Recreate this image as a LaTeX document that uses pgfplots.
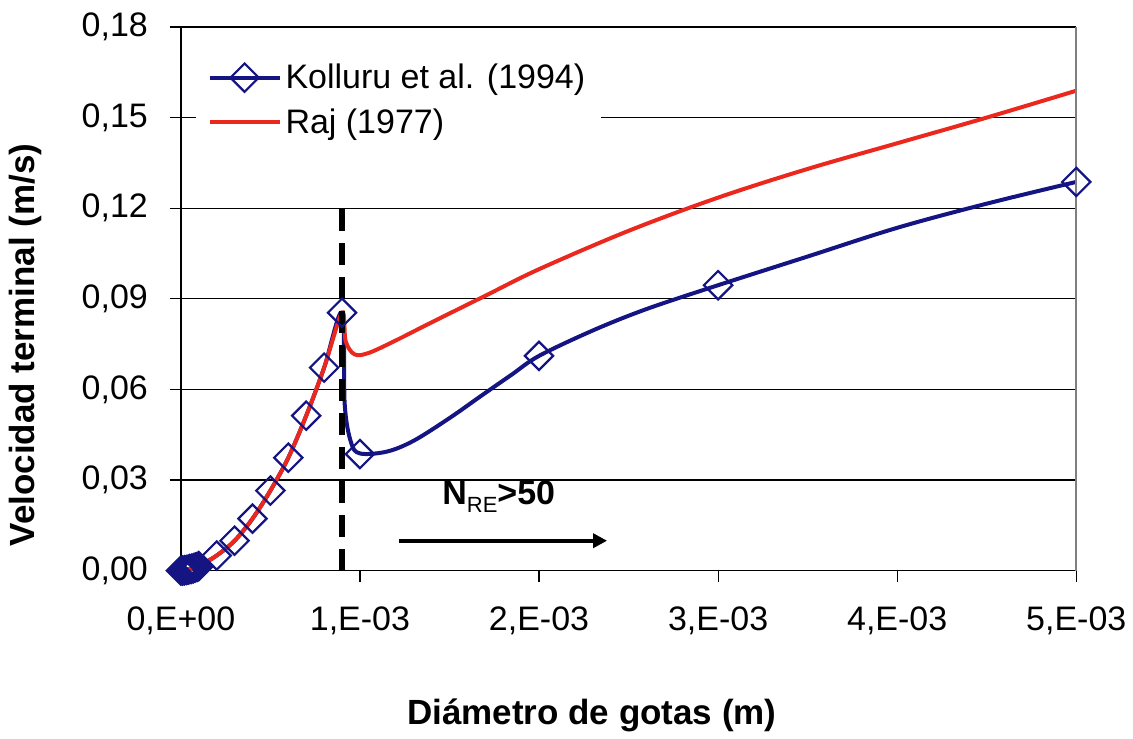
\documentclass[border=0pt]{standalone}
\usepackage{fontspec}
\setmainfont{Liberation Sans}
\usepackage{pgfplots}
\pgfplotsset{compat=1.18}
\usetikzlibrary{arrows.meta}
\definecolor{kblue}{RGB}{20,20,130}
\definecolor{rajred}{RGB}{235,40,30}

\begin{document}
\begin{tikzpicture}
\begin{axis}[
    scale only axis,
    width=448pt, height=272pt,
    xmin=0, xmax=0.005, ymin=0, ymax=0.18,
    axis x line*=bottom, axis y line*=left,
    clip=false,
    xtick={0,0.001,0.002,0.003,0.004,0.005},
    xticklabels={{0,E+00},{1,E-03},{2,E-03},{3,E-03},{4,E-03},{5,E-03}},
    ytick={0,0.03,0.06,0.09,0.12,0.15,0.18},
    yticklabels={{0,00},{0,03},{0,06},{0,09},{0,12},{0,15},{0,18}},
    scaled x ticks=false, scaled y ticks=false,
    tick align=outside, major tick length=5.5pt,
    tick style={black, line width=0.6pt},
    ymajorgrids, grid style={black, line width=0.6pt},
    axis line style={black, line width=0.8pt},
    ticklabel style={font=\fontsize{17}{17}\selectfont},
    xticklabel style={yshift=-9pt},
    yticklabel style={xshift=-7.5pt},
    label style={font=\fontsize{17.5}{17.5}\selectfont\bfseries},
    xlabel={Diámetro de gotas (m)},
    ylabel={Velocidad terminal (m/s)},
    xlabel style={at={(axis description cs:0.459,-0.267)}, anchor=center},
    ylabel style={at={(axis description cs:-0.174,0.415)}, anchor=center},
    legend style={at={(axis description cs:0.016,0.955)}, anchor=north west,
        draw=none, fill=white, font=\fontsize{17}{20}\selectfont,
        inner xsep=6pt, inner ysep=4pt, row sep=4.5pt},
    legend cell align=left,
    legend image code/.code={\draw[mark repeat=2,mark phase=2,#1]
        plot coordinates {(0pt,0pt) (17.5pt,0pt) (35pt,0pt)};},
]
% Kolluru et al. (1994), line
\addplot[kblue, line width=2pt, smooth, tension=0.55, forget plot] coordinates {
    (0,0) (0.00005,0.0005) (0.0001,0.0015) (0.0002,0.005) (0.0003,0.0099)
    (0.0004,0.0172) (0.0005,0.0265) (0.0006,0.0374) (0.0007,0.0513)
    (0.0008,0.0672) (0.0009,0.0854) (0.000915,0.055) (0.00095,0.0425)
    (0.001,0.0388) (0.00115,0.0394) (0.0013,0.0430) (0.0015,0.0505)
    (0.00168,0.0580) (0.00185,0.0650) (0.002,0.0711) (0.0023,0.0795)
    (0.0026,0.0866) (0.003,0.0945) (0.0035,0.1040) (0.004,0.1135)
    (0.0045,0.1215) (0.005,0.1287)};
% Raj (1977)
\addplot[rajred, line width=2pt, smooth, tension=0.55, forget plot] coordinates {
    (0,0) (0.00005,0.0005) (0.0001,0.0015) (0.0002,0.005) (0.0003,0.0099)
    (0.0004,0.0172) (0.0005,0.0265) (0.0006,0.0374) (0.0007,0.0513)
    (0.0008,0.0672) (0.0009,0.0854) (0.00092,0.0760) (0.00097,0.0716)
    (0.00105,0.0721) (0.0012,0.0762) (0.0014,0.0822) (0.0017,0.0910)
    (0.002,0.0998) (0.0025,0.1125) (0.003,0.1235) (0.0035,0.1330)
    (0.004,0.1415) (0.0045,0.1500) (0.005,0.1589)};
% Kolluru et al. (1994), markers
\addplot[only marks, mark=square, mark size=5pt,
    mark options={kblue, rotate=45, line width=1.1pt}, forget plot] coordinates {
    (0,0) (0.00001,0.00003) (0.00002,0.0001) (0.00003,0.0002) (0.00004,0.0003)
    (0.00005,0.0005) (0.00006,0.0006) (0.00007,0.0008) (0.00008,0.001)
    (0.00009,0.0012) (0.0001,0.0015)
    (0.0002,0.005) (0.0003,0.0099) (0.0004,0.0172) (0.0005,0.0265)
    (0.0006,0.0374) (0.0007,0.0513) (0.0008,0.0672) (0.0009,0.0854)
    (0.001,0.0386) (0.002,0.0711) (0.003,0.0945) (0.005,0.1287)};
% limit of the regimes
\addplot[black, line width=3pt, dash pattern=on 11pt off 6pt, forget plot]
    coordinates {(0.0009,0) (0.0009,0.121)};
\addplot[black, line width=2.2pt, -{Triangle[length=7pt,width=7pt]}, forget plot]
    coordinates {(0.00122,0.0099) (0.00238,0.0099)};
\node[font=\fontsize{17}{17}\selectfont\bfseries] at (axis cs:0.001775,0.0245)
    {N\raisebox{-0.4ex}{\fontsize{11}{11}\selectfont\mdseries RE}>50};
\draw[gray, line width=0.8pt] (rel axis cs:1,0) -- (rel axis cs:1,1);

\addlegendimage{kblue, line width=2pt, mark=square, mark size=5pt,
    mark options={rotate=45, line width=1.1pt, fill=white}}
\addlegendentry{Kolluru et al. (1994)}
\addlegendimage{rajred, line width=2pt}
\addlegendentry{Raj (1977)}

\path (rel axis cs:-0.202,1.0496) rectangle (rel axis cs:1.0625,-0.2941);
\end{axis}
\end{tikzpicture}
\end{document}
